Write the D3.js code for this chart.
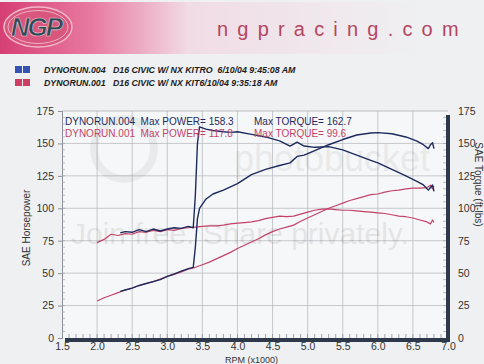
<!DOCTYPE html>
<html>
<head>
<meta charset="utf-8">
<script src="https://cdn.jsdelivr.net/npm/d3@7"></script>
<style>
  body { margin: 0; background: #eff0f2; }
  svg { display: block; font-family: "Liberation Sans", Arial, sans-serif; }
</style>
</head>
<body>
<div id="chart"></div>
<script>
// 1: DATA
const run004Rpm    = [2.33, 2.4, 2.5, 2.6, 2.7, 2.8, 2.9, 3.0, 3.1, 3.2, 3.3, 3.37, 3.40, 3.43, 3.46, 3.55, 3.65, 3.8, 3.9, 4.0, 4.2, 4.4, 4.6, 4.75, 4.85, 4.95, 5.1, 5.3, 5.5, 5.7, 5.9, 6.0, 6.2, 6.4, 6.55, 6.65, 6.72, 6.75, 6.78, 6.8];
const run004Torque = [81, 82, 81.5, 83.5, 82, 84, 82.5, 84, 85, 84.5, 86, 85, 110, 150, 162.7, 161, 160, 159, 158.5, 159, 157, 155, 152, 148, 151, 148, 147, 147.5, 145, 141, 137, 135, 130, 125, 121, 118, 114, 116, 118, 113];
const run004Power  = [36, 37, 38.5, 40.5, 42, 43.5, 45, 47.5, 49.5, 51.5, 53.5, 54.5, 70, 92, 100, 107, 111, 114, 116.5, 119, 126, 130, 133, 135, 140, 141, 144.5, 149, 153, 156.5, 158, 158.3, 157.5, 155, 152, 149, 146, 149, 150.5, 146];

const run001Rpm    = [2.0, 2.1, 2.2, 2.3, 2.4, 2.5, 2.6, 2.7, 2.8, 2.9, 3.0, 3.1, 3.2, 3.3, 3.4, 3.5, 3.6, 3.7, 3.8, 3.9, 4.0, 4.1, 4.2, 4.3, 4.4, 4.5, 4.6, 4.7, 4.8, 4.9, 5.0, 5.1, 5.2, 5.3, 5.4, 5.5, 5.6, 5.7, 5.8, 5.9, 6.0, 6.1, 6.2, 6.3, 6.4, 6.5, 6.6, 6.7, 6.75, 6.78, 6.8];
const run001Power  = [28.5, 31, 33, 35, 37, 38.5, 40.5, 42, 43.5, 45.5, 47.5, 49, 51, 53, 54.5, 56.5, 58.5, 61, 63.5, 66, 69, 71.5, 74, 76.5, 79.5, 82, 84, 85.5, 87, 90, 92.5, 95, 97.5, 100, 102, 104, 106, 107.5, 109, 110.5, 111, 112.5, 113.5, 114, 115, 115.5, 115.5, 116, 117.8, 115, 117];
const run001Torque = [73.5, 76, 80, 79, 80.5, 80, 82, 81.5, 83, 82, 83.5, 83, 84.5, 85, 85.5, 86, 86.5, 86.5, 87, 88, 88.5, 89, 89.5, 90.5, 92, 93, 94, 93.5, 94, 95.5, 97, 98.5, 99.3, 99.6, 99, 98.5, 98.5, 98, 97.5, 97, 96.5, 96, 95, 94, 93.5, 92.5, 91, 89.5, 88, 91, 89];

const xTicks = [1.5, 2.0, 2.5, 3.0, 3.5, 4.0, 4.5, 5.0, 5.5, 6.0, 6.5, 7.0];
const yTicks = [0, 25, 50, 75, 100, 125, 150, 175];

const legendRows = [
  { name: "DYNORUN.004", desc: "D16 CIVIC W/ NX KITRO  6/10/04 9:45:08 AM", color: "#3553b5" },
  { name: "DYNORUN.001", desc: "D16 CIVIC W/ NX KIT6/10/04 9:35:18 AM", color: "#cc3f62" }
];

const blue = "#1d2a5e", red = "#c2436a";

// 2: SVG
const W = 484, H = 364;
const margin = { top: 111, right: 36, bottom: 26, left: 62 };
const width = W - margin.left - margin.right,
      height = H - margin.top - margin.bottom;

const svg = d3.select("#chart").append("svg")
    .attr("width", W)
    .attr("height", H);

// header band with pink fade
const defs = svg.append("defs");
const grad = defs.append("linearGradient").attr("id", "band");
grad.append("stop").attr("offset", "0%").attr("stop-color", "#d63f74");
grad.append("stop").attr("offset", "22%").attr("stop-color", "#e87aa0");
grad.append("stop").attr("offset", "45%").attr("stop-color", "#f1dce6");
grad.append("stop").attr("offset", "100%").attr("stop-color", "#eff0f2");
svg.append("rect").attr("x", 0).attr("y", 2).attr("width", 420).attr("height", 52).attr("fill", "url(#band)");

// logo
svg.append("ellipse").attr("cx", 38).attr("cy", 27).attr("rx", 34).attr("ry", 20)
    .attr("fill", "#d9577f").attr("stroke", "#f0b8c8").attr("stroke-width", 1.5);
svg.append("ellipse").attr("cx", 38).attr("cy", 27).attr("rx", 30).attr("ry", 16.5)
    .attr("fill", "none").attr("stroke", "#f3c9d5").attr("stroke-width", 0.8);
svg.append("text").attr("x", 36).attr("y", 36)
    .attr("text-anchor", "middle")
    .attr("font-size", 26).attr("font-weight", "bold").attr("font-style", "italic")
    .attr("letter-spacing", -2)
    .attr("fill", "#2f4a55").attr("stroke", "#f3c9d5").attr("stroke-width", 0.6)
    .text("NGP");

svg.append("text").attr("x", 217).attr("y", 36)
    .attr("font-size", 20).attr("letter-spacing", 9.2)
    .attr("fill", "#b4465f")
    .text("ngpracing.com");

// legend
legendRows.forEach((d, i) => {
  const y = 66 + i * 13;
  svg.append("rect").attr("x", 15).attr("y", y).attr("width", 7).attr("height", 7).attr("fill", d.color);
  svg.append("rect").attr("x", 23).attr("y", y).attr("width", 7).attr("height", 7).attr("fill", d.color);
  svg.append("text").attr("x", 44).attr("y", y + 7)
      .attr("font-size", 8.8).attr("font-weight", "bold").attr("font-style", "italic")
      .attr("fill", "#1c1c24")
      .attr("xml:space", "preserve")
      .text(d.name + "   " + d.desc);
});

const g = svg.append("g").attr("transform", `translate(${margin.left},${margin.top})`);

// 3: SCALES
const x = d3.scaleLinear().domain([1.5, 7.0]).range([0, width]);
const y = d3.scaleLinear().domain([0, 175]).range([height, 0]);

// plot area + grid
g.append("rect").attr("width", width).attr("height", height).attr("fill", "#f6f7f8");
g.append("g").selectAll("line").data(xTicks.slice(1, -1)).join("line")
    .attr("x1", d => x(d)).attr("x2", d => x(d)).attr("y1", 0).attr("y2", height)
    .attr("stroke", "#b9bcc2").attr("stroke-width", 0.8);
g.append("g").selectAll("line").data(yTicks.slice(1, -1)).join("line")
    .attr("x1", 0).attr("x2", width).attr("y1", d => y(d)).attr("y2", d => y(d))
    .attr("stroke", "#b9bcc2").attr("stroke-width", 0.8);
g.append("line").attr("x1", 0).attr("x2", width).attr("y1", 0).attr("y2", 0)
    .attr("stroke", "#b9bcc2");

// watermark (faint)
g.append("text").attr("x", width / 2 - 15).attr("y", 133)
    .attr("text-anchor", "middle").attr("font-size", 30)
    .attr("fill", "#000").attr("opacity", 0.07)
    .text("Join free. Share privately.");
g.append("text").attr("x", 270).attr("y", 60)
    .attr("text-anchor", "middle").attr("font-size", 36)
    .attr("fill", "#000").attr("opacity", 0.05)
    .text("photobucket");
g.append("circle").attr("cx", 62).attr("cy", 38).attr("r", 30)
    .attr("fill", "none").attr("stroke", "#000").attr("stroke-opacity", 0.05).attr("stroke-width", 8);

// 4: LINES
const line = d3.line().x(d => x(d[0])).y(d => y(d[1]));
const series = [
  { rpm: run001Rpm, val: run001Torque, color: red, w: 1.2 },
  { rpm: run001Rpm, val: run001Power, color: red, w: 1.2 },
  { rpm: run004Rpm, val: run004Torque, color: blue, w: 1.4 },
  { rpm: run004Rpm, val: run004Power, color: blue, w: 1.4 }
];
series.forEach(s => {
  g.append("path")
      .datum(s.rpm.map((r, i) => [r, s.val[i]]))
      .attr("fill", "none")
      .attr("stroke", s.color)
      .attr("stroke-width", s.w)
      .attr("stroke-linejoin", "round")
      .attr("d", line);
});

// 5: AXES
const xAxis = g.append("g").attr("transform", `translate(0,${height})`)
    .call(d3.axisBottom(x).tickValues(xTicks).tickFormat(d3.format(".1f")).tickSize(0).tickPadding(5));
xAxis.select(".domain").remove();
xAxis.selectAll("text").attr("font-size", 10.5).attr("fill", "#333");

// minor ticks above the bottom bar
g.append("g").selectAll("line").data(d3.range(16, 70).map(d => d / 10)).join("line")
    .attr("x1", d => x(d)).attr("x2", d => x(d))
    .attr("y1", height - 4).attr("y2", height)
    .attr("stroke", "#8a8f98").attr("stroke-width", 0.8);
g.append("rect").attr("x", 3).attr("y", height).attr("width", width - 1).attr("height", 4)
    .attr("fill", "#2e3a4c");

const yAxisL = g.append("g")
    .call(d3.axisLeft(y).tickValues(yTicks).tickSize(4).tickPadding(4));
yAxisL.select(".domain").attr("stroke", "#8a8f98");
yAxisL.selectAll(".tick line").attr("stroke", "#8a8f98");
yAxisL.selectAll("text").attr("font-size", 10.5).attr("fill", "#333");
g.append("g").selectAll("line").data(d3.range(5, 175, 5)).join("line")
    .attr("x1", 0).attr("x2", 3).attr("y1", d => y(d)).attr("y2", d => y(d))
    .attr("stroke", "#a0a4aa").attr("stroke-width", 0.7);

const yAxisR = g.append("g").attr("transform", `translate(${width},0)`)
    .call(d3.axisRight(y).tickValues(yTicks).tickSize(0).tickPadding(10));
yAxisR.select(".domain").remove();
yAxisR.selectAll("text").attr("font-size", 10.5).attr("fill", "#333");
g.append("g").selectAll("line").data(d3.range(5, 175, 5)).join("line")
    .attr("x1", width - 5).attr("x2", width - 2).attr("y1", d => y(d)).attr("y2", d => y(d))
    .attr("stroke", "#a0a4aa").attr("stroke-width", 0.7);
g.append("rect").attr("x", width - 2).attr("y", 4).attr("width", 4).attr("height", height)
    .attr("fill", "#2e3a4c");

// 6: LABELS
g.append("text")
    .attr("transform", "rotate(-90)")
    .attr("x", -117).attr("y", -32)
    .attr("text-anchor", "middle").attr("font-size", 10).attr("fill", "#333")
    .text("SAE Horsepower");
g.append("text")
    .attr("transform", "rotate(90)")
    .attr("x", height / 2 - 40).attr("y", -width - 27)
    .attr("text-anchor", "middle").attr("font-size", 10).attr("fill", "#333")
    .text("SAE Torque (ft-lbs)");
g.append("text")
    .attr("x", x(4.2)).attr("y", height + 25)
    .attr("text-anchor", "middle").attr("font-size", 9).attr("fill", "#333")
    .text("RPM (x1000)");

// run summaries
const notes = [
  { t: "DYNORUN.004  Max POWER= 158.3", x: 3, y: 14, c: blue },
  { t: "DYNORUN.001  Max POWER= 117.8", x: 3, y: 26, c: red },
  { t: "Max TORQUE= 162.7", x: 192, y: 14, c: blue },
  { t: "Max TORQUE= 99.6", x: 192, y: 26, c: red }
];
g.selectAll(".note").data(notes).join("text")
    .attr("class", "note")
    .attr("x", d => d.x).attr("y", d => d.y)
    .attr("font-size", 10).attr("fill", d => d.c)
    .attr("xml:space", "preserve")
    .text(d => d.t);
</script>
</body>
</html>
